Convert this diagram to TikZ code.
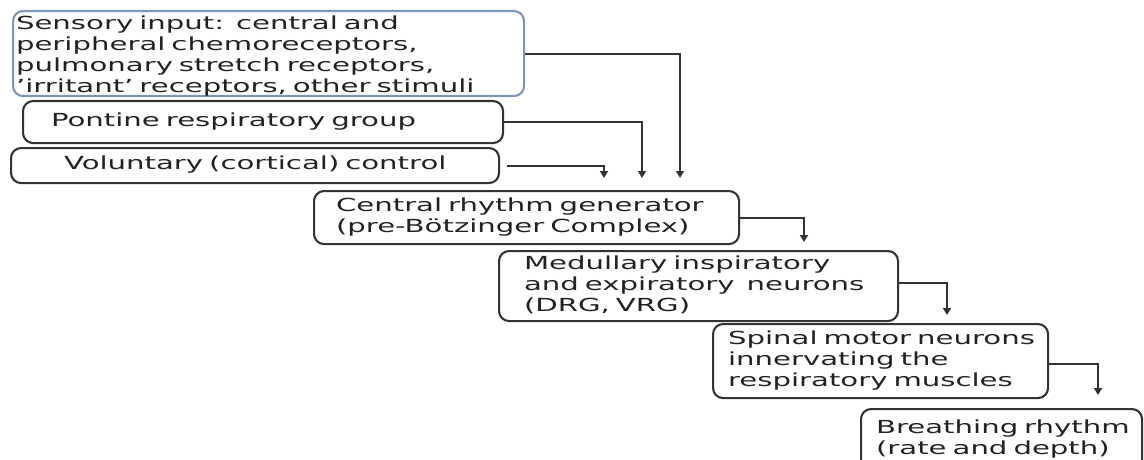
\documentclass[tikz,border=0pt]{standalone}
\usepackage{fontspec}
\setmainfont{DejaVu Sans}[FakeStretch=1.62]
\usetikzlibrary{arrows.meta,calc}
\definecolor{boxgray}{HTML}{333333}
\definecolor{boxblue}{HTML}{7D95B8}
\definecolor{txt}{HTML}{222222}
\newcommand\indtext[2]{\hspace*{#1}\begin{tabular}{@{}l@{}}#2\end{tabular}}
\tikzset{
  box/.style={draw=boxgray, line width=2.1pt, rounded corners=10pt, anchor=north west,
    align=left, inner xsep=3pt, inner ysep=0pt, text=txt, font=\fontsize{18}{21}\selectfont},
  conn/.style={draw=boxgray, line width=2pt, -{Triangle[width=8pt,length=7pt]}}
}
\begin{document}
\begin{tikzpicture}[x=1pt,y=-1pt]
\useasboundingbox (0,0) rectangle (1144,460);
\clip (0,0) rectangle (1144,460);
\node[box, draw=boxblue, text width=505pt, minimum height=85pt] (s) at (12,10)
  {\raisebox{-3pt}[\height][\depth]{\indtext{0pt}{Sensory input:\ \ central and\\peripheral chemoreceptors,\\pulmonary stretch receptors,\\'irritant' receptors, other stimuli}}};
\node[box, text width=474pt, minimum height=42pt] (p) at (22,100)
  {\indtext{25pt}{Pontine respiratory group}};
\node[box, text width=482pt, minimum height=35pt] (v) at (10,147)
  {\indtext{50pt}{Voluntary (cortical) control}};
\node[box, text width=419pt, minimum height=53pt] (c) at (313,190)
  {\indtext{19pt}{Central rhythm generator\\(pre-Bötzinger Complex)}};
\node[box, text width=393pt, minimum height=70pt] (m) at (498,250)
  {\indtext{22pt}{Medullary inspiratory\\and expiratory\ \ neurons\\(DRG, VRG)}};
\node[box, text width=329pt, minimum height=74pt] (sp) at (712,323)
  {\indtext{12pt}{Spinal motor neurons\\innervating the\\respiratory muscles}};
\node[box, text width=275pt, minimum height=62pt] (b) at (860,408)
  {\indtext{12pt}{Breathing rhythm\\(rate and depth)}};
\draw[conn, shorten <=7pt] (v.east) -| ($(c.north west)+(291,-12)$);
\draw[conn] (p.east) -| ($(c.north west)+(329,-12)$);
\draw[conn] (s.east) -| ($(c.north west)+(367,-12)$);
\draw[conn] (c.east) -| ($(m.north west)+(306,-8)$);
\draw[conn] ([yshift=3pt]m.east) -| ($(sp.north west)+(235,-8)$);
\draw[conn] ([yshift=-3pt]sp.east) -| ($(b.north west)+(238,-13)$);
\end{tikzpicture}
\end{document}
